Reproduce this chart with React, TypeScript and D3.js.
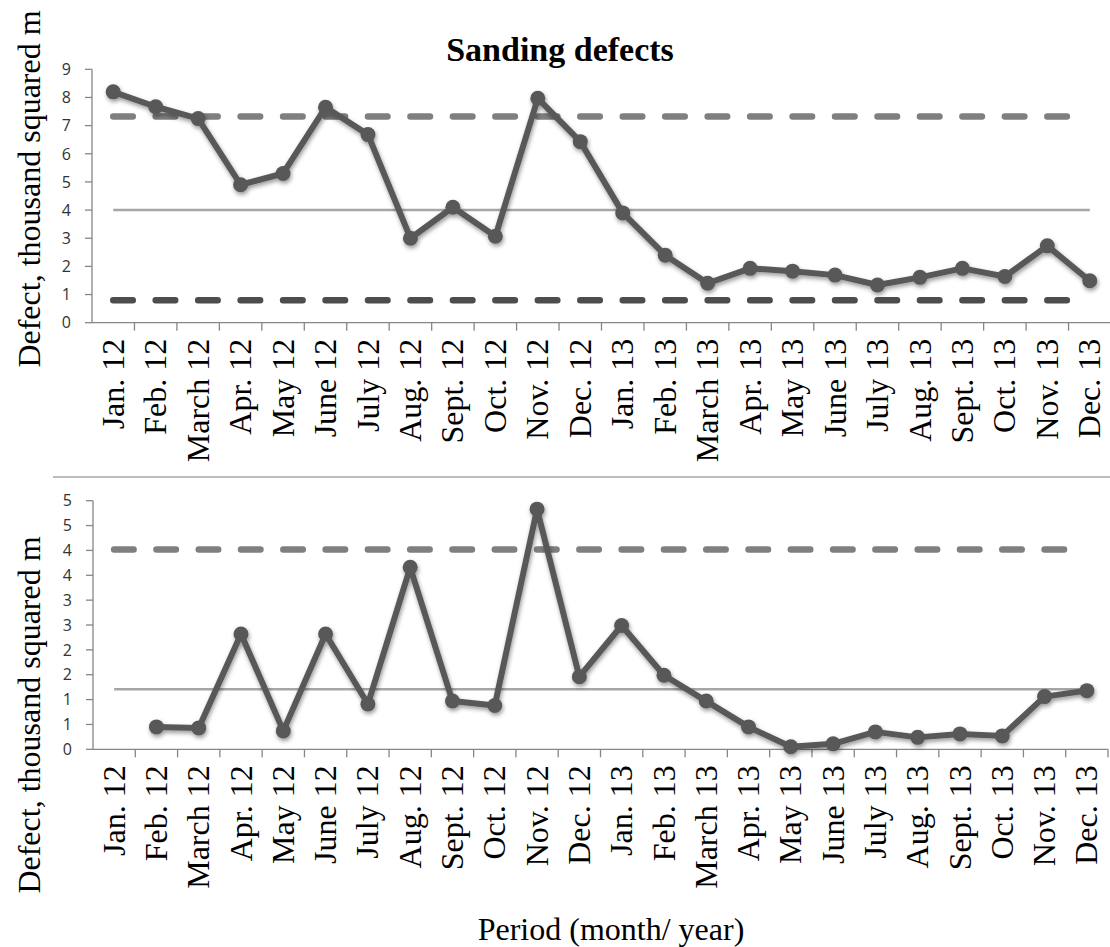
import React from "react";
import * as d3 from "d3";

const months = [
  "Jan. 12", "Feb. 12", "March 12", "Apr. 12", "May 12", "June 12", "July 12", "Aug. 12",
  "Sept. 12", "Oct. 12", "Nov. 12", "Dec. 12", "Jan. 13", "Feb. 13", "March 13", "Apr. 13",
  "May 13", "June 13", "July 13", "Aug. 13", "Sept. 13", "Oct. 13", "Nov. 13", "Dec. 13",
];

const topValues: (number | null)[] = [
  8.2, 7.67, 7.25, 4.9, 5.3, 7.65, 6.68, 3.0, 4.1, 3.07, 7.97, 6.43,
  3.9, 2.4, 1.4, 1.93, 1.83, 1.69, 1.34, 1.61, 1.93, 1.64, 2.73, 1.49,
];
const topUCL = 7.32;
const topCL = 4.0;
const topLCL = 0.8;
const topTicks = [0, 1, 2, 3, 4, 5, 6, 7, 8, 9];

const bottomValues: (number | null)[] = [
  null, 0.45, 0.43, 2.32, 0.37, 2.32, 0.91, 3.66, 0.97, 0.88, 4.83, 1.46,
  2.49, 1.49, 0.97, 0.45, 0.05, 0.11, 0.35, 0.24, 0.31, 0.27, 1.06, 1.18,
];
const bottomUCL = 4.02;
const bottomCL = 1.21;
const bottomTicks = [0, 0.5, 1, 1.5, 2, 2.5, 3, 3.5, 4, 4.5, 5];

const title = "Sanding defects";
const yTitle = "Defect, thousand squared m";
const xTitle = "Period (month/ year)";

const SERIF = "'Liberation Serif', 'Times New Roman', serif";
const SANS = "'Open Sans', 'Liberation Sans', sans-serif";

type PanelProps = {
  values: (number | null)[];
  ucl: number;
  cl: number;
  lcl: number | null;
  ticks: number[];
  domainMax: number;
  x0: number;
  x1: number;
  yTop: number;
  yBottom: number;
  yTitleCenter: number;
  id: string;
};

function Panel(p: PanelProps) {
  const x = d3.scaleBand<string>().domain(months).range([p.x0, p.x1]).padding(0);
  const y = d3.scaleLinear().domain([0, p.domainMax]).range([p.yBottom, p.yTop]);
  const cx = (m: string) => (x(m) as number) + x.bandwidth() / 2;
  const firstX = cx(months[0]);
  const lastX = cx(months[months.length - 1]);

  const line = d3
    .line<number | null>()
    .defined((d) => d !== null)
    .x((_, i) => cx(months[i]))
    .y((d) => y(d as number));

  const step = x.step();
  const dash = `${step * 0.46} ${step * 0.54}`;

  return (
    <g>
      <text
        transform={`translate(40, ${p.yTitleCenter}) rotate(-90)`}
        textAnchor="middle"
        fontFamily={SERIF}
        fontSize={32}
        fill="#000"
      >
        {yTitle}
      </text>
      <line x1={p.x0} x2={p.x0} y1={y(p.domainMax)} y2={y(0)} stroke="#868686" strokeWidth={1.3} />
      {p.ticks.map((t) => (
        <g key={t}>
          <line x1={p.x0 - 7} x2={p.x0} y1={y(t)} y2={y(t)} stroke="#868686" strokeWidth={1.3} />
          <text
            x={p.x0 - 21}
            y={y(t)}
            dy="0.36em"
            textAnchor="end"
            fontFamily={SANS}
            fontSize={16}
            fill="#333"
          >
            {Math.round(t)}
          </text>
        </g>
      ))}
      <line x1={p.x0} x2={p.x1} y1={y(0)} y2={y(0)} stroke="#868686" strokeWidth={1.3} />
      {months.map((m) => (
        <line
          key={"t" + m}
          x1={(x(m) as number) + step}
          x2={(x(m) as number) + step}
          y1={y(0)}
          y2={y(0) + 8}
          stroke="#868686"
          strokeWidth={1.3}
        />
      ))}
      {months.map((m) => (
        <text
          key={"l" + m}
          transform={`translate(${cx(m)}, ${y(0) + 16}) rotate(-90)`}
          dy="0.33em"
          textAnchor="end"
          fontFamily={SERIF}
          fontSize={32}
          fill="#000"
        >
          {m}
        </text>
      ))}
      <line x1={firstX} x2={lastX} y1={y(p.cl)} y2={y(p.cl)} stroke="#a6a6a6" strokeWidth={2.5} />
      <line
        x1={firstX}
        x2={lastX - 3}
        y1={y(p.ucl)}
        y2={y(p.ucl)}
        stroke="#7f7f7f"
        strokeWidth={6.5}
        strokeDasharray={dash}
        strokeLinecap="round"
      />
      {p.lcl !== null && (
        <line
          x1={firstX}
          x2={lastX - 3}
          y1={y(p.lcl)}
          y2={y(p.lcl)}
          stroke="#4d4d4d"
          strokeWidth={6.5}
          strokeDasharray={dash}
          strokeLinecap="round"
        />
      )}
      <g filter={`url(#shadow-${p.id})`}>
        <path d={line(p.values) || ""} fill="none" stroke="#595959" strokeWidth={6} strokeLinejoin="round" />
        {p.values.map((v, i) =>
          v === null ? null : (
            <circle key={"c" + i} cx={cx(months[i])} cy={y(v)} r={7.5} fill="#595959" />
          )
        )}
      </g>
    </g>
  );
}

export default function App() {
  return (
    <svg
      width={1110}
      height={947}
      style={{ position: "absolute", left: 0, top: 0, background: "#fff" }}
    >
      <defs>
        {["top", "bottom"].map((id) => (
          <filter key={id} id={`shadow-${id}`} x="-5%" y="-10%" width="110%" height="130%">
            <feDropShadow dx={1} dy={2.5} stdDeviation={2} floodColor="#000" floodOpacity={0.4} />
          </filter>
        ))}
      </defs>
      <rect x={0} y={0} width={1110} height={947} fill="#fff" />
      <text
        x={560}
        y={61}
        textAnchor="middle"
        fontFamily={SERIF}
        fontWeight="bold"
        fontSize={34}
        fill="#000"
      >
        {title}
      </text>
      <Panel
        id="top"
        values={topValues}
        ucl={topUCL}
        cl={topCL}
        lcl={topLCL}
        ticks={topTicks}
        domainMax={9}
        x0={92}
        x1={1111}
        yTop={69.3}
        yBottom={322.7}
        yTitleCenter={189}
      />
      <line x1={53} x2={1110} y1={477} y2={477} stroke="#a6a6a6" strokeWidth={1.5} />
      <Panel
        id="bottom"
        values={bottomValues}
        ucl={bottomUCL}
        cl={bottomCL}
        lcl={null}
        ticks={bottomTicks}
        domainMax={5}
        x0={93}
        x1={1108}
        yTop={500.7}
        yBottom={749.3}
        yTitleCenter={715}
      />
      <text x={611} y={940} textAnchor="middle" fontFamily={SERIF} fontSize={32} fill="#000">
        {xTitle}
      </text>
    </svg>
  );
}
